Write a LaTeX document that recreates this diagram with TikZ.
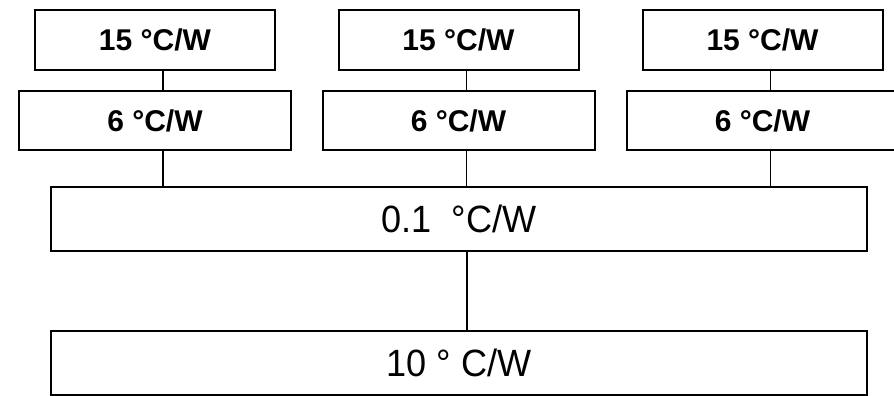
\documentclass[tikz,border=0pt]{standalone}
\usepackage{fontspec}
\usepackage{graphicx}
\setmainfont{Liberation Sans}
\usetikzlibrary{positioning}
\newcommand{\narrowtext}[1]{\scalebox{0.95}[1]{#1}}
\tikzset{
    wire/.style={line width=1.6pt},
    smallbox/.style={draw, rectangle, line width=2pt, inner sep=0pt, minimum width=240pt, minimum height=60pt, font=\fontsize{30}{32}\selectfont\bfseries},
    midbox/.style={smallbox, minimum width=272pt, minimum height=59pt},
    bigbox/.style={draw, rectangle, line width=2pt, inner sep=0pt, minimum width=816pt, minimum height=64pt, font=\fontsize{38}{40}\selectfont}
}

\begin{document}
\begin{tikzpicture}[x=1pt, y=1pt]
    \useasboundingbox (0,0) rectangle (894,396);
    \node (r1) [smallbox] at (155,356) {15 °C/W};
    \node (r2) [smallbox] at (458.5,356) {15 °C/W};
    \node (r3) [smallbox] at (762.5,356) {15 °C/W};
    \node (s1) [midbox, below=19pt of r1] {6 °C/W};
    \node (s2) [midbox, below=19pt of r2] {6 °C/W};
    \node (s3) [midbox, below=19pt of r3] {6 °C/W};
    \node (sink) [bigbox] at (459,177) {\narrowtext{0.1~~°C/W}};
    \node (amb) [bigbox, below=78pt of sink] {\narrowtext{10 ° C/W}};
    \foreach \i in {1,2,3} {
        \draw [wire] ([xshift=8pt]r\i.south) -- ([xshift=8pt]s\i.north);
        \draw [wire] ([xshift=8pt]s\i.south) -- ([xshift=8pt]s\i.south |- sink.north);
    }
    \draw [wire] ([xshift=8pt]sink.south) -- ([xshift=8pt]amb.north);
\end{tikzpicture}
\end{document}
